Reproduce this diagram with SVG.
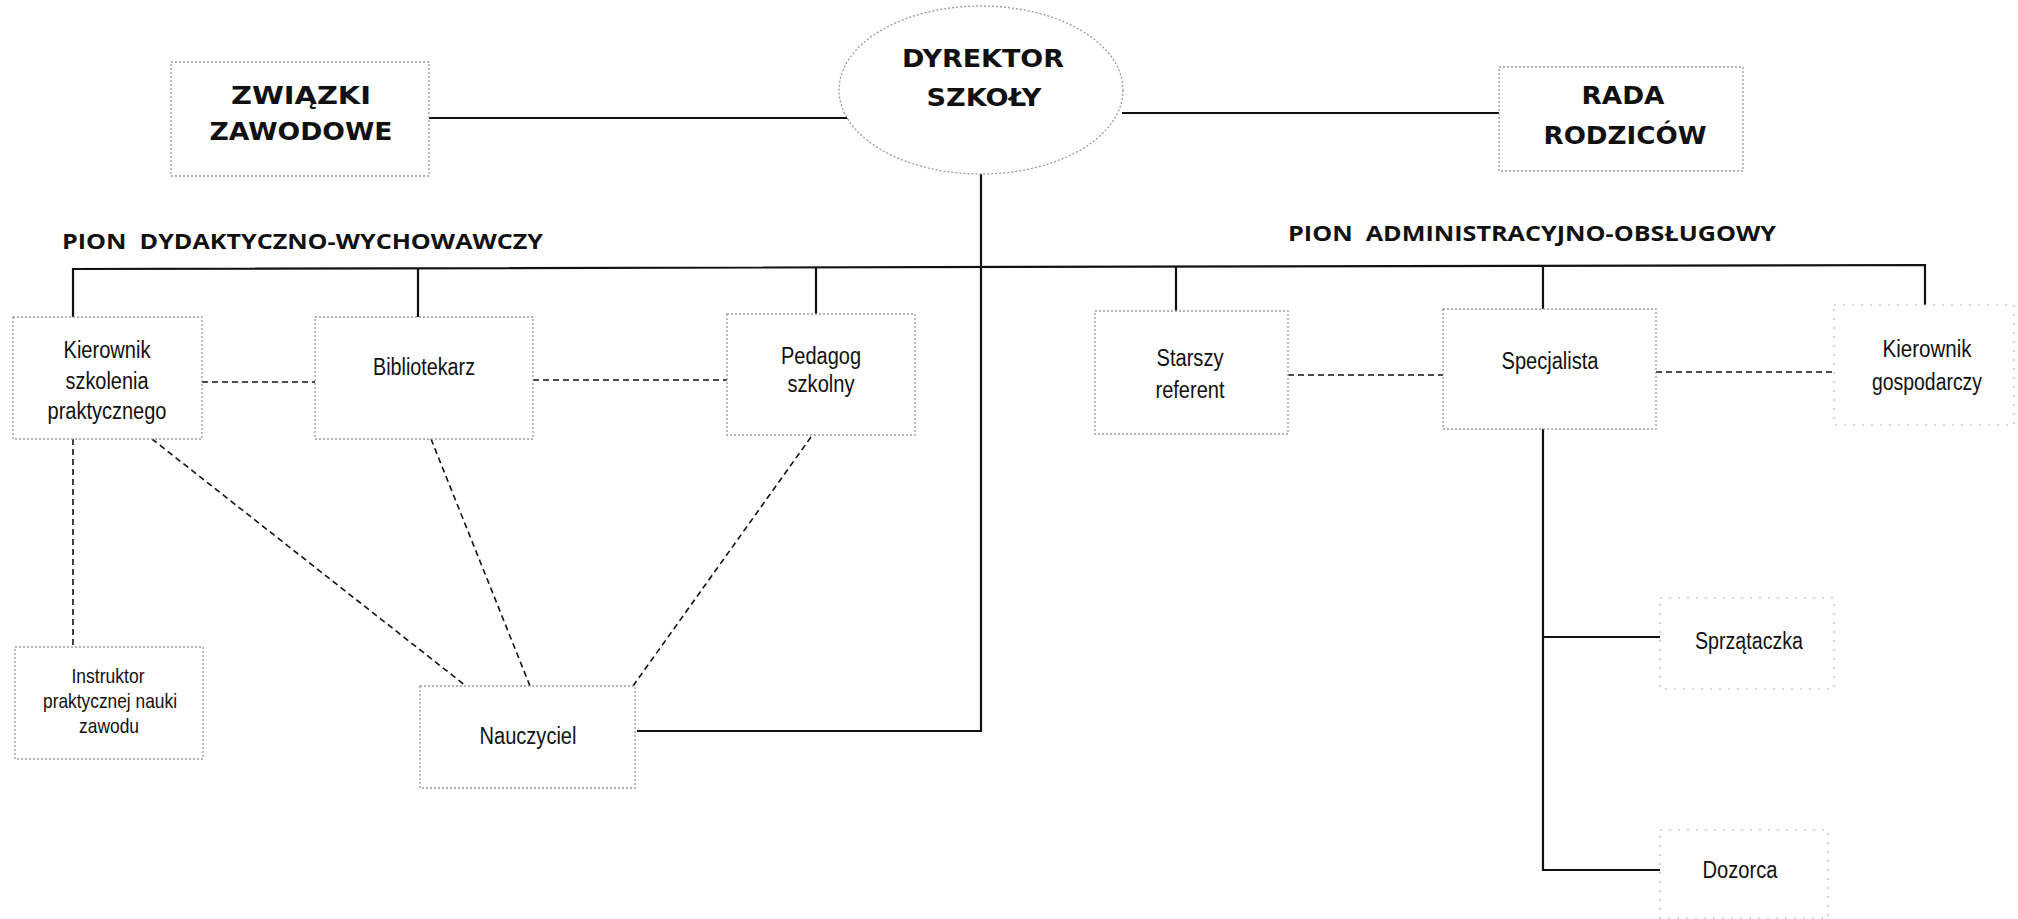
<svg xmlns="http://www.w3.org/2000/svg" width="2018" height="919" viewBox="0 0 2018 919">
<style>
.box{fill:#fff;stroke:#9a9a9a;stroke-width:1.3;stroke-dasharray:2 2}
.faint{fill:#fff;stroke:#b5b5b5;stroke-width:1.2;stroke-dasharray:2 7}
.big{font-family:"DejaVu Sans",Verdana,sans-serif;font-weight:bold;font-size:24px;fill:#111;text-anchor:middle}
.hdr{font-family:"Open Sans","Liberation Sans",sans-serif;font-weight:bold;font-size:21px;fill:#111;white-space:pre}
.t{font-family:"Liberation Sans",Arial,sans-serif;font-size:23px;fill:#111;text-anchor:middle}
.s{font-family:"Liberation Sans",Arial,sans-serif;font-size:21px;fill:#111;text-anchor:middle}
.solid{fill:none;stroke:#111;stroke-width:2.2}
.dash{fill:none;stroke:#111;stroke-width:1.6;stroke-dasharray:6 4}
</style>
<rect width="2018" height="919" fill="#fff"/>
<g id="connectors">
<line class="solid" x1="429" y1="118" x2="858" y2="118"/>
<line class="solid" x1="1122" y1="113" x2="1499" y2="113"/>
<polyline class="solid" points="981,174 981,731 637,731"/>
<polyline class="solid" points="73,317 73,269 1925,265 1925,305"/>
<line class="solid" x1="418" y1="268" x2="418" y2="317"/>
<line class="solid" x1="816" y1="267" x2="816" y2="314"/>
<line class="solid" x1="1176" y1="266" x2="1176" y2="311"/>
<line class="solid" x1="1543" y1="266" x2="1543" y2="309"/>
<polyline class="solid" points="1543,429 1543,870 1660,870"/>
<line class="solid" x1="1543" y1="637" x2="1660" y2="637"/>
<line class="dash" x1="202" y1="382" x2="315" y2="382"/>
<line class="dash" x1="533" y1="380" x2="727" y2="380"/>
<line class="dash" x1="1288" y1="375" x2="1443" y2="375"/>
<line class="dash" x1="1656" y1="372" x2="1834" y2="372"/>
<line class="dash" x1="73" y1="439" x2="73" y2="647"/>
<line class="dash" x1="152" y1="439" x2="466" y2="686"/>
<line class="dash" x1="431" y1="439" x2="530" y2="686"/>
<line class="dash" x1="811" y1="437" x2="633" y2="686"/>
</g>
<g id="zwiazki">
<rect class="box" x="171" y="62" width="258" height="114"/>
<text class="big" x="301" y="104" textLength="140" lengthAdjust="spacingAndGlyphs">ZWIĄZKI</text>
<text class="big" x="301" y="140" textLength="183" lengthAdjust="spacingAndGlyphs">ZAWODOWE</text>
</g>
<g id="dyrektor">
<ellipse class="box" cx="981" cy="90" rx="142" ry="84"/>
<text class="big" x="983" y="67" textLength="162" lengthAdjust="spacingAndGlyphs">DYREKTOR</text>
<text class="big" x="984" y="106" textLength="115" lengthAdjust="spacingAndGlyphs">SZKOŁY</text>
</g>
<g id="rada">
<rect class="box" x="1499" y="67" width="244" height="104"/>
<text class="big" x="1623" y="104" textLength="83" lengthAdjust="spacingAndGlyphs">RADA</text>
<text class="big" x="1625" y="144" textLength="163" lengthAdjust="spacingAndGlyphs">RODZICÓW</text>
</g>
<g id="headers">
<text class="hdr" x="62" y="249" textLength="481" lengthAdjust="spacingAndGlyphs">PION  DYDAKTYCZNO-WYCHOWAWCZY</text>
<text class="hdr" x="1288" y="241" textLength="488" lengthAdjust="spacingAndGlyphs">PION  ADMINISTRACYJNO-OBSŁUGOWY</text>
</g>
<g id="kierownik-szkolenia">
<rect class="box" x="13" y="317" width="189" height="122"/>
<text class="t" x="107" y="358" textLength="87" lengthAdjust="spacingAndGlyphs">Kierownik</text>
<text class="t" x="107" y="389" textLength="83" lengthAdjust="spacingAndGlyphs">szkolenia</text>
<text class="t" x="107" y="419" textLength="119" lengthAdjust="spacingAndGlyphs">praktycznego</text>
</g>
<g id="bibliotekarz">
<rect class="box" x="315" y="317" width="218" height="122"/>
<text class="t" x="424" y="375" textLength="102" lengthAdjust="spacingAndGlyphs">Bibliotekarz</text>
</g>
<g id="pedagog">
<rect class="box" x="727" y="314" width="188" height="121"/>
<text class="t" x="821" y="364" textLength="80" lengthAdjust="spacingAndGlyphs">Pedagog</text>
<text class="t" x="821" y="392" textLength="67" lengthAdjust="spacingAndGlyphs">szkolny</text>
</g>
<g id="starszy-referent">
<rect class="box" x="1095" y="311" width="193" height="123"/>
<text class="t" x="1190" y="366" textLength="67" lengthAdjust="spacingAndGlyphs">Starszy</text>
<text class="t" x="1190" y="398" textLength="69" lengthAdjust="spacingAndGlyphs">referent</text>
</g>
<g id="specjalista">
<rect class="box" x="1443" y="309" width="213" height="120"/>
<text class="t" x="1550" y="369" textLength="97" lengthAdjust="spacingAndGlyphs">Specjalista</text>
</g>
<g id="kierownik-gospodarczy">
<rect class="faint" x="1834" y="305" width="180" height="120"/>
<text class="t" x="1927" y="357" textLength="89" lengthAdjust="spacingAndGlyphs">Kierownik</text>
<text class="t" x="1927" y="390" textLength="110" lengthAdjust="spacingAndGlyphs">gospodarczy</text>
</g>
<g id="instruktor">
<rect class="box" x="15" y="647" width="188" height="112"/>
<text class="s" x="108" y="683" textLength="73" lengthAdjust="spacingAndGlyphs">Instruktor</text>
<text class="s" x="110" y="708" textLength="134" lengthAdjust="spacingAndGlyphs">praktycznej nauki</text>
<text class="s" x="109" y="733" textLength="60" lengthAdjust="spacingAndGlyphs">zawodu</text>
</g>
<g id="nauczyciel">
<rect class="box" x="420" y="686" width="215" height="102"/>
<text class="t" x="528" y="744" textLength="97" lengthAdjust="spacingAndGlyphs">Nauczyciel</text>
</g>
<g id="sprzataczka">
<rect class="faint" x="1660" y="598" width="174" height="91"/>
<text class="t" x="1749" y="649" textLength="108" lengthAdjust="spacingAndGlyphs">Sprzątaczka</text>
</g>
<g id="dozorca">
<rect class="faint" x="1660" y="830" width="168" height="88"/>
<text class="t" x="1740" y="878" textLength="75" lengthAdjust="spacingAndGlyphs">Dozorca</text>
</g>
</svg>
